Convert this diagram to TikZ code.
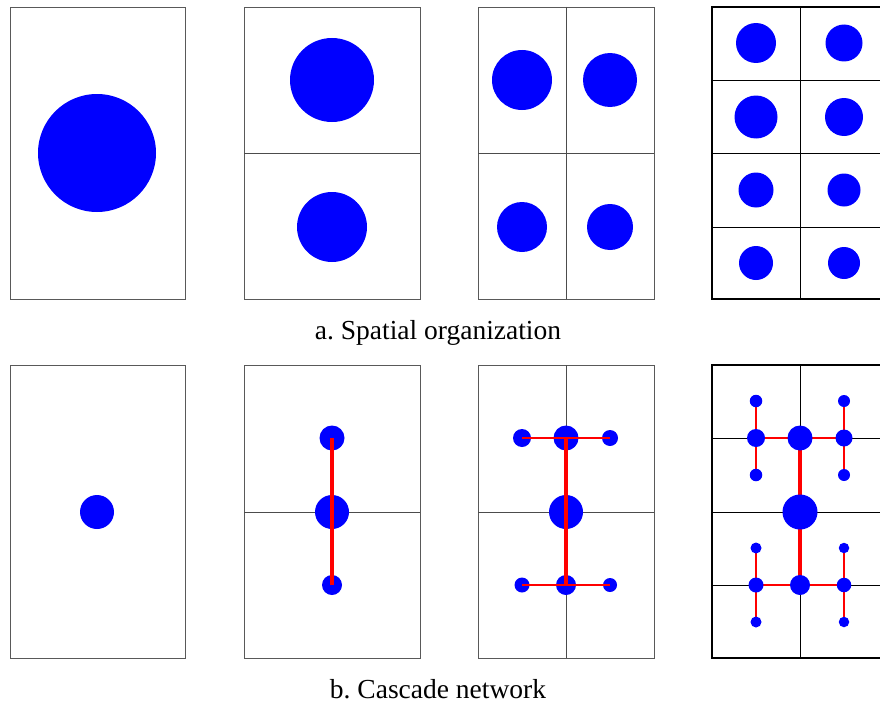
\documentclass[tikz,border=0pt]{standalone}
\usepackage{fontspec}
\setmainfont{Liberation Serif}
\usetikzlibrary{backgrounds}
\begin{document}
\begin{tikzpicture}[x=1pt,y=-1pt,
    frame/.style={draw=black!65,line width=0.9pt},
    grid/.style={draw=black!70,line width=0.9pt},
    blob/.style={circle,fill=blue,inner sep=0pt,minimum size=#1},
    link/.style={draw=red,line width=#1},
    caption/.style={anchor=base,font=\fontsize{27.5}{32}\selectfont}]
      \useasboundingbox (0,0) rectangle (880,709);
      \clip (0,0) rectangle (880,709);
      % a. spatial organization
      \draw[frame] (10,7) rectangle (185,299);
      \draw[frame] (244,7) rectangle (420,299);
      \draw[grid] (244,153) -- (420,153);
      \draw[frame] (478,7) rectangle (654,299);
      \draw[grid] (478,153) -- (654,153) (566,7) -- (566,299);
      \draw[black,line width=1.6pt] (712,7) rectangle (888,299);
      \draw[black,line width=0.9pt] (800,7) -- (800,299)
        (712,80) -- (888,80) (712,153) -- (888,153) (712,227) -- (888,227);
      \draw
        (97,153) node[blob=118] (s1){}
        (332,80) node[blob=84] (s2a){}
        (332,227) node[blob=70] (s2b){}
        (522,80) node[blob=60] (s3a){}
        (610,80) node[blob=54] (s3b){}
        (522,227) node[blob=50] (s3c){}
        (610,227) node[blob=46] (s3d){}
        (756,43) node[blob=40] (s4a){}
        (844,43) node[blob=37] (s4b){}
        (756,117) node[blob=43] (s4c){}
        (844,117) node[blob=38] (s4d){}
        (756,190) node[blob=35] (s4e){}
        (844,190) node[blob=33] (s4f){}
        (756,263) node[blob=34] (s4g){}
        (844,263) node[blob=32] (s4h){};
      \node[caption] (capa) at (438,339) {\frenchspacing a. Spatial organization};
      % b. cascade network
      \draw[frame] (10,365) rectangle (185,658);
      \draw[frame] (244,365) rectangle (420,658);
      \draw[grid] (244,512) -- (420,512);
      \draw[frame] (478,365) rectangle (654,658);
      \draw[grid] (478,512) -- (654,512) (566,365) -- (566,658);
      \draw
        (97,512) node[blob=34] (c1){}
        (332,438) node[blob=25] (c2a){}
        (332,512) node[blob=34] (c2b){}
        (332,585) node[blob=20] (c2c){};
      \draw[link=4pt] (c2a.center) -- (c2c.center);
      \draw
        (522,438) node[blob=18] (c3a){}
        (566,438) node[blob=25] (c3b){}
        (610,438) node[blob=16] (c3c){}
        (566,512) node[blob=34] (c3d){}
        (522,585) node[blob=15] (c3e){}
        (566,585) node[blob=20] (c3f){}
        (610,585) node[blob=14] (c3g){};
      \begin{scope}[link=2.5pt]
        \draw (c3a.center) to (c3c.center);
        \draw (c3e.center) to (c3g.center);
      \end{scope}
      \draw[link=4pt] (c3b.center) -- (c3f.center);
      \draw
        (756,401) node[blob=12.5] (c4a){}
        (844,401) node[blob=12] (c4b){}
        (756,438) node[blob=18] (c4c){}
        (800,438) node[blob=25] (c4d){}
        (844,438) node[blob=17] (c4e){}
        (756,475) node[blob=12.5] (c4f){}
        (844,475) node[blob=12] (c4g){}
        (800,512) node[blob=35] (c4h){}
        (756,548) node[blob=11] (c4i){}
        (844,548) node[blob=10.5] (c4j){}
        (756,585) node[blob=15] (c4k){}
        (800,585) node[blob=20] (c4l){}
        (844,585) node[blob=14.5] (c4m){}
        (756,622) node[blob=11] (c4n){}
        (844,622) node[blob=10.5] (c4o){};
      \begin{pgfonlayer}{background}
        \draw[black,line width=1.6pt] (712,365) rectangle (888,658);
        \draw[black,line width=0.9pt] (800,365) -- (800,658)
          (712,438) -- (888,438) (712,512) -- (888,512) (712,585) -- (888,585);
        \draw[link=4pt] (c4d.center) -- (c4l.center);
        \begin{scope}[link=2.5pt]
          \draw (c4c.center) to (c4e.center);
          \draw (c4k.center) to (c4m.center);
        \end{scope}
        \begin{scope}[link=1.8pt]
          \draw (c4a.center) to (c4f.center);
          \draw (c4b.center) to (c4g.center);
          \draw (c4i.center) to (c4n.center);
          \draw (c4j.center) to (c4o.center);
        \end{scope}
      \end{pgfonlayer}
      \node[caption] (capb) at (438,698) {\frenchspacing b. Cascade network};
    \end{tikzpicture}
\end{document}
